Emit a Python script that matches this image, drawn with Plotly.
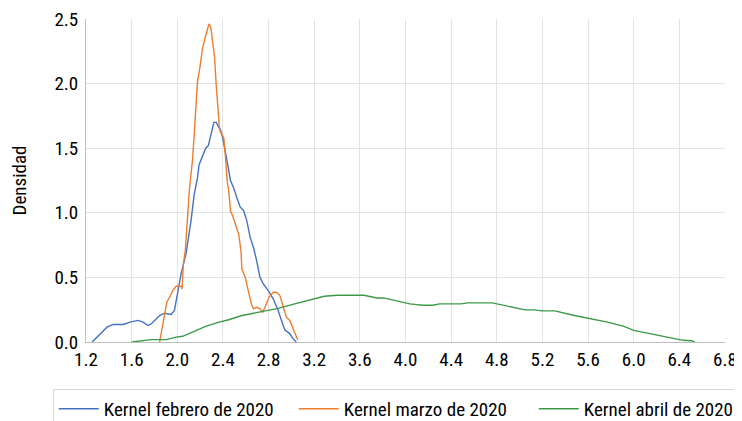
import plotly.graph_objects as go

# Kernel febrero de 2020
feb_x = [1.254, 1.282, 1.326, 1.384, 1.44, 1.527, 1.585, 1.657, 1.70, 1.744, 1.773, 1.845, 1.888, 1.946,
         1.975, 2.003, 2.033, 2.076, 2.12, 2.148, 2.177, 2.191, 2.22, 2.249, 2.272, 2.293, 2.321, 2.341,
         2.365, 2.379, 2.399, 2.423, 2.445, 2.466, 2.494, 2.523, 2.552, 2.581, 2.61, 2.639, 2.668, 2.696,
         2.725, 2.754, 2.797, 2.841, 2.884, 2.913, 2.942, 2.985, 3.014, 3.042]
feb_y = [0.0, 0.026, 0.065, 0.115, 0.136, 0.136, 0.154, 0.167, 0.154, 0.128, 0.141, 0.205, 0.223, 0.213,
         0.244, 0.372, 0.526, 0.68, 0.936, 1.14, 1.27, 1.372, 1.436, 1.5, 1.52, 1.603, 1.70, 1.70,
         1.659, 1.64, 1.577, 1.475, 1.36, 1.25, 1.192, 1.115, 1.044, 1.018, 0.936, 0.808, 0.731, 0.628,
         0.5, 0.449, 0.398, 0.334, 0.244, 0.167, 0.095, 0.065, 0.026, 0.0]

# Kernel marzo de 2020
mar_x = [1.845, 1.874, 1.908, 1.932, 1.96, 1.99, 2.033, 2.042, 2.053, 2.07, 2.09, 2.105, 2.12, 2.133,
         2.148, 2.163, 2.177, 2.197, 2.22, 2.249, 2.278, 2.293, 2.307, 2.327, 2.341, 2.358, 2.371, 2.393,
         2.408, 2.423, 2.437, 2.451, 2.466, 2.486, 2.509, 2.538, 2.558, 2.566, 2.596, 2.624, 2.648, 2.668,
         2.696, 2.725, 2.748, 2.769, 2.803, 2.841, 2.869, 2.899, 2.927, 2.956, 2.985, 3.014, 3.042, 3.057]
mar_y = [0.0, 0.141, 0.308, 0.346, 0.398, 0.431, 0.431, 0.41, 0.603, 0.705, 0.988, 1.167, 1.30, 1.40,
         1.603, 1.808, 2.013, 2.115, 2.269, 2.372, 2.462, 2.436, 2.346, 2.205, 1.988, 1.757, 1.64, 1.603,
         1.577, 1.423, 1.244, 1.167, 1.013, 0.975, 0.911, 0.834, 0.705, 0.565, 0.5, 0.398, 0.295, 0.257,
         0.269, 0.257, 0.231, 0.269, 0.346, 0.385, 0.385, 0.359, 0.282, 0.192, 0.167, 0.103, 0.052, 0.013]

# Kernel abril de 2020
abr_x = [1.6, 1.70, 1.773, 1.903, 1.99, 2.047, 2.133, 2.249, 2.365, 2.451, 2.566, 2.739, 2.884, 3.029,
         3.172, 3.288, 3.403, 3.635, 3.75, 3.808, 4.038, 4.154, 4.24, 4.298, 4.486, 4.544, 4.76, 4.904,
         5.048, 5.135, 5.193, 5.308, 5.481, 5.77, 5.914, 6.0, 6.203, 6.434, 6.506, 6.535]
abr_y = [0.0, 0.013, 0.018, 0.018, 0.038, 0.044, 0.077, 0.121, 0.154, 0.172, 0.205, 0.238, 0.26, 0.295,
         0.33, 0.354, 0.362, 0.362, 0.341, 0.341, 0.295, 0.285, 0.285, 0.295, 0.295, 0.303, 0.303, 0.277,
         0.249, 0.249, 0.241, 0.241, 0.205, 0.154, 0.121, 0.09, 0.052, 0.013, 0.01, 0.0]

x_ticks = [1.2, 1.6, 2.0, 2.4, 2.8, 3.2, 3.6, 4.0, 4.4, 4.8, 5.2, 5.6, 6.0, 6.4, 6.8]
y_ticks = [0.0, 0.5, 1.0, 1.5, 2.0, 2.5]

FONT = "Roboto Condensed, Liberation Sans, sans-serif"
FS = 19

fig = go.Figure()
fig.add_trace(go.Scatter(x=feb_x, y=feb_y, mode="lines", name="Kernel febrero de 2020",
                         line=dict(color="#4472C4", width=1.4)))
fig.add_trace(go.Scatter(x=mar_x, y=mar_y, mode="lines", name="Kernel marzo de 2020",
                         line=dict(color="#ED7D31", width=1.4)))
fig.add_trace(go.Scatter(x=abr_x, y=abr_y, mode="lines", name="Kernel abril de 2020",
                         line=dict(color="#3A9A48", width=1.4)))

# the page body adds an 8 px margin, so the figure is 8 px smaller on each axis
fig.update_layout(
    width=734, height=413,
    margin=dict(l=78, r=17, t=11, b=79, autoexpand=False),
    paper_bgcolor="white", plot_bgcolor="white",
    font=dict(family=FONT, size=FS, color="#000000"),
    showlegend=True,
    legend=dict(orientation="h", x=-0.052, xanchor="left", y=-0.145, yanchor="top",
                bordercolor="#d9d9d9", borderwidth=1, font=dict(size=FS),
                itemwidth=40, tracegroupgap=0, entrywidth=185, entrywidthmode="pixels"),
)
fig.update_xaxes(range=[1.2, 6.8], tickvals=x_ticks, ticktext=[f"{v:.1f}" for v in x_ticks],
                 showgrid=True, gridcolor="#e3e3e3", gridwidth=1,
                 showline=True, linecolor="#bfbfbf", linewidth=1, zeroline=False,
                 ticks="", tickfont=dict(size=FS), ticklabeloverflow="allow")
fig.update_yaxes(range=[0, 2.5], tickvals=y_ticks, ticktext=[f"{v:.1f}" for v in y_ticks],
                 showgrid=True, gridcolor="#e3e3e3", gridwidth=1,
                 showline=True, linecolor="#bfbfbf", linewidth=1, zeroline=False,
                 ticks="", tickfont=dict(size=FS), ticklabelstandoff=3, ticklabeloverflow="allow",
                 title=dict(text="Densidad", font=dict(size=FS), standoff=30))

fig.write_html("out.html")
